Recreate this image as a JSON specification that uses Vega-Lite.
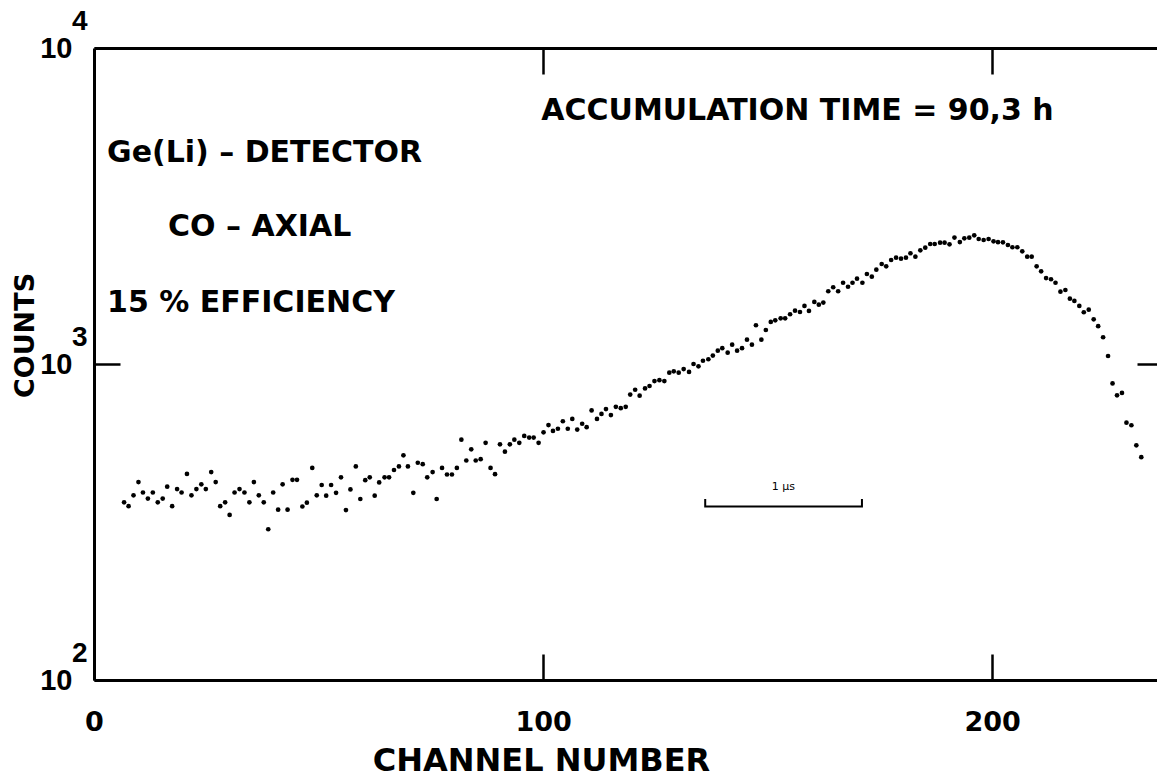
{
  "$schema": "https://vega.github.io/schema/vega-lite/v6.json",
  "width": 1063,
  "height": 632,
  "autosize": {"type": "none"},
  "padding": {"left": 94, "top": 48, "right": 0, "bottom": 98},
  "background": "white",
  "config": {"view": {"stroke": null}, "font": "DejaVu Sans"},
  "datasets": {
    "spectrum": [
      {"ch":6.7,"counts":365},{"ch":7.7,"counts":355},{"ch":8.8,"counts":384},{"ch":9.9,"counts":423},{"ch":10.9,"counts":392},
      {"ch":12.0,"counts":375},{"ch":13.1,"counts":392},{"ch":14.2,"counts":365},{"ch":15.3,"counts":375},{"ch":16.3,"counts":409},
      {"ch":17.4,"counts":355},{"ch":18.5,"counts":402},{"ch":19.5,"counts":392},{"ch":20.7,"counts":449},{"ch":21.7,"counts":384},
      {"ch":22.8,"counts":402},{"ch":23.9,"counts":416},{"ch":24.9,"counts":402},{"ch":26.1,"counts":455},{"ch":27.1,"counts":423},
      {"ch":28.1,"counts":355},{"ch":29.2,"counts":365},{"ch":30.2,"counts":333},{"ch":31.3,"counts":392},{"ch":32.4,"counts":402},
      {"ch":33.5,"counts":392},{"ch":34.6,"counts":365},{"ch":35.6,"counts":423},{"ch":36.7,"counts":384},{"ch":37.8,"counts":365},
      {"ch":38.8,"counts":300},{"ch":39.9,"counts":392},{"ch":41.0,"counts":346},{"ch":42.0,"counts":416},{"ch":43.1,"counts":346},
      {"ch":44.2,"counts":430},{"ch":45.2,"counts":430},{"ch":46.4,"counts":354},{"ch":47.4,"counts":364},{"ch":48.6,"counts":469},
      {"ch":49.6,"counts":384},{"ch":50.7,"counts":414},{"ch":51.7,"counts":383},{"ch":52.8,"counts":414},{"ch":53.9,"counts":391},
      {"ch":55.0,"counts":438},{"ch":56.1,"counts":345},{"ch":57.1,"counts":401},{"ch":58.3,"counts":474},{"ch":59.3,"counts":374},
      {"ch":60.4,"counts":429},{"ch":61.4,"counts":438},{"ch":62.5,"counts":383},{"ch":63.5,"counts":422},{"ch":64.7,"counts":438},
      {"ch":65.7,"counts":438},{"ch":66.8,"counts":462},{"ch":67.9,"counts":474},{"ch":68.9,"counts":514},{"ch":69.9,"counts":474},
      {"ch":71.1,"counts":391},{"ch":72.1,"counts":487},{"ch":73.2,"counts":482},{"ch":74.2,"counts":438},{"ch":75.4,"counts":455},
      {"ch":76.3,"counts":374},{"ch":77.5,"counts":469},{"ch":78.6,"counts":447},{"ch":79.7,"counts":447},{"ch":80.8,"counts":469},
      {"ch":81.8,"counts":576},{"ch":82.9,"counts":495},{"ch":84.0,"counts":537},{"ch":85.0,"counts":495},{"ch":86.1,"counts":500},
      {"ch":87.2,"counts":563},{"ch":88.3,"counts":469},{"ch":89.3,"counts":448},{"ch":90.4,"counts":557},{"ch":91.5,"counts":528},
      {"ch":92.6,"counts":557},{"ch":93.6,"counts":576},{"ch":94.7,"counts":563},{"ch":95.8,"counts":592},{"ch":96.9,"counts":585},
      {"ch":97.9,"counts":585},{"ch":99.0,"counts":563},{"ch":100.1,"counts":608},{"ch":101.2,"counts":641},{"ch":102.2,"counts":614},
      {"ch":103.3,"counts":624},{"ch":104.4,"counts":659},{"ch":105.5,"counts":624},{"ch":106.5,"counts":670},{"ch":107.6,"counts":620},
      {"ch":108.7,"counts":647},{"ch":109.7,"counts":631},{"ch":110.8,"counts":713},{"ch":112.0,"counts":670},{"ch":113.0,"counts":695},
      {"ch":114.0,"counts":720},{"ch":115.1,"counts":689},{"ch":116.2,"counts":732},{"ch":117.3,"counts":725},{"ch":118.4,"counts":732},
      {"ch":119.4,"counts":800},{"ch":120.5,"counts":829},{"ch":121.5,"counts":794},{"ch":122.7,"counts":837},{"ch":123.7,"counts":852},
      {"ch":124.8,"counts":883},{"ch":125.9,"counts":889},{"ch":127.0,"counts":883},{"ch":128.1,"counts":939},{"ch":129.1,"counts":948},
      {"ch":130.2,"counts":939},{"ch":131.3,"counts":964},{"ch":132.5,"counts":944},{"ch":133.5,"counts":1000},{"ch":134.6,"counts":983},
      {"ch":135.6,"counts":1024},{"ch":136.8,"counts":1035},{"ch":137.8,"counts":1063},{"ch":138.9,"counts":1102},{"ch":139.9,"counts":1122},
      {"ch":141.1,"counts":1086},{"ch":142.1,"counts":1151},{"ch":143.2,"counts":1102},{"ch":144.3,"counts":1122},{"ch":145.4,"counts":1194},
      {"ch":146.5,"counts":1151},{"ch":147.4,"counts":1326},{"ch":148.6,"counts":1194},{"ch":149.6,"counts":1281},{"ch":150.7,"counts":1359},
      {"ch":151.7,"counts":1375},{"ch":152.9,"counts":1395},{"ch":153.9,"counts":1395},{"ch":155.0,"counts":1437},{"ch":156.1,"counts":1475},
      {"ch":157.2,"counts":1461},{"ch":158.2,"counts":1527},{"ch":159.2,"counts":1472},{"ch":160.4,"counts":1572},{"ch":161.4,"counts":1541},
      {"ch":162.4,"counts":1564},{"ch":163.5,"counts":1699},{"ch":164.6,"counts":1749},{"ch":165.7,"counts":1699},{"ch":166.8,"counts":1808},
      {"ch":167.9,"counts":1756},{"ch":168.9,"counts":1808},{"ch":169.9,"counts":1862},{"ch":171.1,"counts":1808},{"ch":172.1,"counts":1927},
      {"ch":173.2,"counts":1890},{"ch":174.2,"counts":1988},{"ch":175.4,"counts":2072},{"ch":176.4,"counts":2038},{"ch":177.5,"counts":2134},
      {"ch":178.6,"counts":2170},{"ch":179.7,"counts":2154},{"ch":180.8,"counts":2170},{"ch":181.8,"counts":2241},{"ch":182.9,"counts":2186},
      {"ch":184.0,"counts":2290},{"ch":185.1,"counts":2334},{"ch":186.2,"counts":2397},{"ch":187.2,"counts":2397},{"ch":188.4,"counts":2420},
      {"ch":189.4,"counts":2420},{"ch":190.5,"counts":2392},{"ch":191.6,"counts":2513},{"ch":192.8,"counts":2432},{"ch":193.8,"counts":2499},
      {"ch":194.9,"counts":2510},{"ch":196.0,"counts":2554},{"ch":197.0,"counts":2486},{"ch":198.1,"counts":2468},{"ch":199.2,"counts":2486},
      {"ch":200.3,"counts":2444},{"ch":201.3,"counts":2429},{"ch":202.4,"counts":2427},{"ch":203.5,"counts":2380},{"ch":204.5,"counts":2341},
      {"ch":205.6,"counts":2341},{"ch":206.7,"counts":2272},{"ch":207.8,"counts":2186},{"ch":208.8,"counts":2186},{"ch":209.9,"counts":2038},
      {"ch":210.9,"counts":1965},{"ch":212.0,"counts":1870},{"ch":213.1,"counts":1854},{"ch":214.1,"counts":1808},{"ch":215.2,"counts":1694},
      {"ch":216.3,"counts":1715},{"ch":217.3,"counts":1610},{"ch":218.3,"counts":1583},{"ch":219.4,"counts":1527},{"ch":220.4,"counts":1458},
      {"ch":221.5,"counts":1486},{"ch":222.6,"counts":1385},{"ch":223.6,"counts":1317},{"ch":224.7,"counts":1215},{"ch":225.8,"counts":1060},
      {"ch":226.8,"counts":868},{"ch":227.8,"counts":796},{"ch":228.9,"counts":810},{"ch":229.9,"counts":652},{"ch":231.0,"counts":640},
      {"ch":232.1,"counts":553},{"ch":233.2,"counts":507}
    ],
    "notes": [
      {"ch":99.6,"counts":6300,"text":"ACCUMULATION TIME = 90,3 h"},
      {"ch":2.9,"counts":4650,"text":"Ge(Li) – DETECTOR"},
      {"ch":16.5,"counts":2714,"text":"CO – AXIAL"},
      {"ch":2.9,"counts":1560,"text":"15 % EFFICIENCY"}
    ],
    "exps": [
      {"ch":0,"counts":10000,"e":"4"},
      {"ch":0,"counts":1000,"e":"3"},
      {"ch":0,"counts":100,"e":"2"}
    ],
    "bar": [
      {"ch":136.1,"counts":374,"o":1},
      {"ch":136.1,"counts":354,"o":2},
      {"ch":171.0,"counts":354,"o":3},
      {"ch":171.0,"counts":374,"o":4}
    ],
    "barlabel": [
      {"ch":153.5,"counts":408,"text":"1 µs"}
    ]
  },
  "layer": [
    {
      "data": {"name": "spectrum"},
      "mark": {"type": "circle", "size": 22, "color": "black", "opacity": 1},
      "encoding": {
        "x": {
          "field": "ch", "type": "quantitative",
          "scale": {"domain": [0, 236.7], "nice": false, "zero": false},
          "axis": {
            "orient": "bottom", "values": [0, 100, 200], "grid": false,
            "domain": true, "domainColor": "black", "domainWidth": 3,
            "ticks": true, "tickSize": -26, "tickWidth": 2.5, "tickColor": "black",
            "labelFont": "DejaVu Sans", "labelFontWeight": "bold", "labelFontSize": 27, "labelColor": "black",
            "labelPadding": 55, "labelFlush": false, "labelOverlap": false, "labelBound": false,
            "title": "CHANNEL NUMBER", "titleFont": "DejaVu Sans", "titleFontWeight": "bold", "titleFontSize": 32,
            "titleColor": "black", "titleX": 447, "titleY": 80, "titleAnchor": null, "titleAlign": "center", "titleBaseline": "middle"
          }
        },
        "y": {
          "field": "counts", "type": "quantitative",
          "scale": {"type": "log", "domain": [100, 10000], "nice": false, "zero": false},
          "axis": {
            "orient": "left", "values": [100, 1000, 10000], "grid": false,
            "domain": true, "domainColor": "black", "domainWidth": 3,
            "ticks": true, "tickSize": -26, "tickWidth": 2.5, "tickColor": "black",
            "labelExpr": "'10'",
            "labelFont": "Liberation Sans", "labelFontWeight": "bold", "labelFontSize": 29, "labelColor": "black",
            "labelPadding": 48, "labelFlush": false, "labelOverlap": false, "labelBound": false, "labelAlign": "right", "labelBaseline": "middle",
            "title": "COUNTS", "titleFont": "DejaVu Sans", "titleFontWeight": "bold", "titleFontSize": 27,
            "titleColor": "black", "titleX": -69, "titleY": 287, "titleAngle": -90, "titleAlign": "center", "titleBaseline": "middle"
          }
        }
      }
    },
    {
      "data": {"name": "notes"},
      "mark": {"type": "text", "align": "left", "baseline": "middle", "font": "DejaVu Sans", "fontWeight": "bold", "fontSize": 30, "color": "black"},
      "encoding": {
        "x": {
          "field": "ch", "type": "quantitative",
          "axis": {
            "orient": "top", "values": [100, 200], "grid": false, "labels": false, "title": null,
            "domain": true, "domainColor": "black", "domainWidth": 3,
            "ticks": true, "tickSize": -26, "tickWidth": 2.5, "tickColor": "black"
          }
        },
        "y": {
          "field": "counts", "type": "quantitative",
          "axis": {
            "orient": "right", "values": [1000], "grid": false, "labels": false, "title": null,
            "domain": false,
            "ticks": true, "tickSize": -20, "tickWidth": 2.5, "tickColor": "black"
          }
        },
        "text": {"field": "text"}
      }
    },
    {
      "data": {"name": "exps"},
      "mark": {"type": "text", "align": "left", "baseline": "middle", "font": "Liberation Sans", "fontWeight": "bold", "fontSize": 28, "color": "black", "dx": -22, "dy": -26},
      "encoding": {
        "x": {"field": "ch", "type": "quantitative", "axis": null},
        "y": {"field": "counts", "type": "quantitative", "axis": null},
        "text": {"field": "e"}
      }
    },
    {
      "data": {"name": "bar"},
      "mark": {"type": "line", "color": "black", "strokeWidth": 2},
      "encoding": {
        "x": {"field": "ch", "type": "quantitative", "axis": null},
        "y": {"field": "counts", "type": "quantitative", "axis": null},
        "order": {"field": "o"}
      }
    },
    {
      "data": {"name": "barlabel"},
      "mark": {"type": "text", "align": "center", "baseline": "middle", "font": "DejaVu Sans", "fontSize": 11, "color": "black"},
      "encoding": {
        "x": {"field": "ch", "type": "quantitative", "axis": null},
        "y": {"field": "counts", "type": "quantitative", "axis": null},
        "text": {"field": "text"}
      }
    }
  ],
  "resolve": {"axis": {"x": "independent", "y": "independent"}}
}
